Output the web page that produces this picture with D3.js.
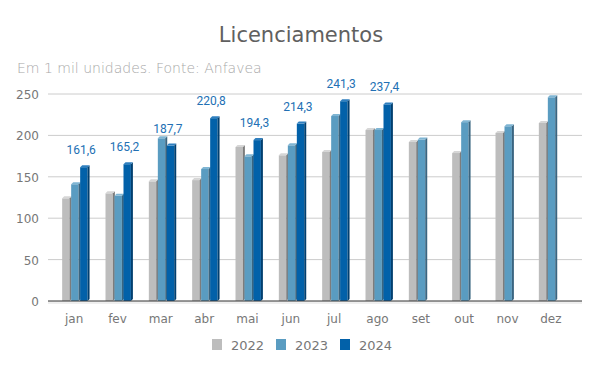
<!DOCTYPE html>
<html>
<head>
<meta charset="utf-8">
<script src="https://cdn.jsdelivr.net/npm/d3@7"></script>
<style>
  body { margin: 0; background: #fff; }
  text { font-family: "DejaVu Sans", sans-serif; }
</style>
</head>
<body>
<div id="chart"></div>
<script>
// Licenciamentos - em mil unidades
const months = ['jan', 'fev', 'mar', 'abr', 'mai', 'jun', 'jul', 'ago', 'set', 'out', 'nov', 'dez']
const years = ['2022', '2023', '2024']
const values2022 = [124, 130, 144.5, 146, 186, 176, 180, 206.5, 192, 178.7, 203, 215]
const values2023 = [141, 127, 196.5, 159.4, 174.7, 188, 223.4, 206.5, 195, 216, 211, 246]
const values2024 = [161.6, 165.2, 187.7, 220.8, 194.3, 214.3, 241.3, 237.4, null, null, null, null]
const yTicks = [0, 50, 100, 150, 200, 250]

const colors = {
  '2022': { front: '#bdbdbd', side: '#7c7c7c', top: '#d6d6d6' },
  '2023': { front: '#5a9cc1', side: '#3a6580', top: '#7fb5d3' },
  '2024': { front: '#0261a9', side: '#013f6f', top: '#2f7fbf' },
}

const width = 600
const height = 371
const plotLeft = 48
const plotRight = 582
const plotTop = 94
const plotBottom = 301
const depth = 2

const svg = d3.select('#chart')
  .append('svg')
  .attr('width', width)
  .attr('height', height)

const y = d3.scaleLinear().domain([0, 250]).range([plotBottom, plotTop])
const x = d3.scaleBand().domain(months).range([54, 574])
const xInner = d3.scaleBand().domain(years).range([0, 27])

// title
svg.append('text')
  .attr('x', 301).attr('y', 42)
  .attr('text-anchor', 'middle')
  .style('font-size', '21px')
  .attr('fill', '#606060')
  .text('Licenciamentos')

svg.append('text')
  .attr('x', 17).attr('y', 73)
  .style('font-size', '14px')
  .style('font-weight', 200)
  .attr('fill', '#a8a8a8')
  .text('Em 1 mil unidades. Fonte: Anfavea')

// gridlines
svg.append('g')
  .selectAll('line')
  .data(yTicks.filter(d => d > 0))
  .enter()
  .append('line')
  .attr('x1', plotLeft).attr('x2', plotRight)
  .attr('y1', d => y(d)).attr('y2', d => y(d))
  .attr('stroke', '#cccccc')

svg.append('g')
  .selectAll('text')
  .data(yTicks)
  .enter()
  .append('text')
  .attr('x', 39)
  .attr('y', d => y(d) + 5)
  .attr('text-anchor', 'end')
  .style('font-size', '12px')
  .attr('fill', '#777')
  .text(d => d)

// floor
svg.append('rect')
  .attr('x', plotLeft).attr('y', plotBottom)
  .attr('width', plotRight - plotLeft).attr('height', 3)
  .attr('fill', '#efefef')

// bars
let bars = []
months.forEach((m, i) => {
  bars.push({ month: m, year: '2022', value: values2022[i] })
  bars.push({ month: m, year: '2023', value: values2023[i] })
  if (values2024[i] != null) bars.push({ month: m, year: '2024', value: values2024[i] })
})

const frontW = 7.4
const barX = d => x(d.month) + x.bandwidth() / 2 - 13.5 + xInner(d.year)

const barG = svg.append('g')
  .selectAll('g')
  .data(bars)
  .enter()
  .append('g')

barG.append('rect')
  .attr('x', d => barX(d))
  .attr('y', d => y(d.value))
  .attr('width', frontW)
  .attr('height', d => plotBottom - y(d.value))
  .attr('fill', d => colors[d.year].front)

barG.append('polygon')
  .attr('points', d => {
    let x0 = barX(d) + frontW
    let yt = y(d.value)
    return `${x0},${yt} ${x0 + depth},${yt - depth} ${x0 + depth},${plotBottom - depth} ${x0},${plotBottom}`
  })
  .attr('fill', d => colors[d.year].side)

barG.append('polygon')
  .attr('points', d => {
    let x0 = barX(d)
    let yt = y(d.value)
    return `${x0},${yt} ${x0 + depth},${yt - depth} ${x0 + frontW + depth},${yt - depth} ${x0 + frontW},${yt}`
  })
  .attr('fill', d => colors[d.year].top)

// value labels for 2024
svg.append('g')
  .selectAll('text')
  .data(bars.filter(d => d.year === '2024'))
  .enter()
  .append('text')
  .attr('x', d => barX(d) + 1)
  .attr('y', d => y(d.value) - 13)
  .attr('text-anchor', 'middle')
  .style('font-family', 'Roboto, sans-serif')
  .style('font-size', '12px')
  .attr('fill', '#2270b4')
  .text(d => d3.format('.1f')(d.value).replace('.', ','))

// baseline
svg.append('line')
  .attr('x1', plotLeft).attr('x2', plotRight)
  .attr('y1', plotBottom).attr('y2', plotBottom)
  .attr('stroke', '#333')

// x labels
svg.append('g')
  .selectAll('text')
  .data(months)
  .enter()
  .append('text')
  .attr('x', d => x(d) + x.bandwidth() / 2 - 1.5)
  .attr('y', 323)
  .attr('text-anchor', 'middle')
  .style('font-size', '12px')
  .attr('fill', '#777')
  .text(d => d)

// legend
const legend = svg.append('g')
  .selectAll('g')
  .data(years)
  .enter()
  .append('g')
  .attr('transform', (d, i) => `translate(${212 + i * 64},339)`)

legend.append('rect')
  .attr('width', 10).attr('height', 11)
  .attr('fill', d => colors[d].front)

legend.append('text')
  .attr('x', 19).attr('y', 10.5)
  .style('font-size', '13px')
  .attr('fill', '#777')
  .text(d => d)
</script>
</body>
</html>
